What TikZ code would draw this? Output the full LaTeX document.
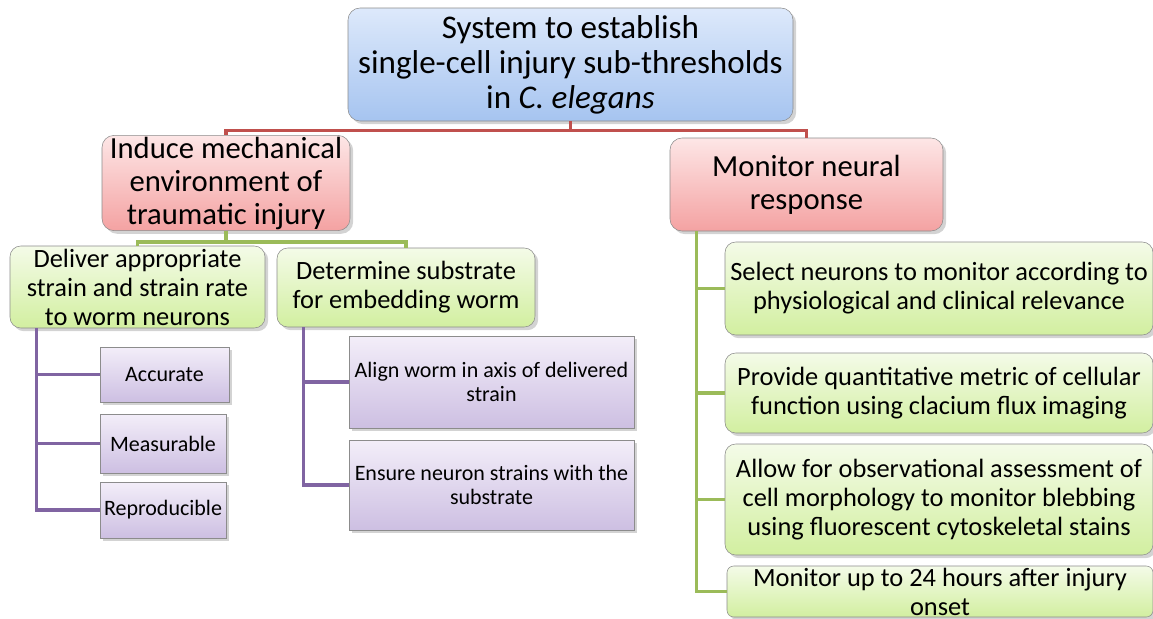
\documentclass[tikz,border=0pt]{standalone}
\usepackage{fontspec}
\setmainfont{Carlito}
\usepackage{tikz}
\usetikzlibrary{calc,shadows}
\definecolor{edge}{HTML}{8C8C8C}
\definecolor{bluetop}{HTML}{DDE9FB}
\definecolor{bluebot}{HTML}{A6C4F0}
\definecolor{redtop}{HTML}{FDE6E6}
\definecolor{redbot}{HTML}{F4A2A2}
\definecolor{greentop}{HTML}{F4FBE8}
\definecolor{greenbot}{HTML}{D2EFA0}
\definecolor{lilactop}{HTML}{F3EEF9}
\definecolor{lilacbot}{HTML}{CDBFE2}
\definecolor{redline}{HTML}{C0504D}
\definecolor{greenline}{HTML}{9BBB59}
\definecolor{purpleline}{HTML}{8064A2}

\begin{document}
\begin{tikzpicture}[x=0.75pt,y=-0.75pt,
  every node/.style={align=center,inner sep=1pt},
  goal/.style={draw=edge,rounded corners=9pt,top color=bluetop,bottom color=bluebot,
              drop shadow={opacity=0.35},font=\fontsize{24.8}{26.25}\selectfont},
  aim/.style={draw=edge,rounded corners=9pt,top color=redtop,bottom color=redbot,
              drop shadow={opacity=0.35},font=\fontsize{23}{24.75}\selectfont},
  task/.style={draw=edge,rounded corners=8pt,top color=greentop,bottom color=greenbot,
              drop shadow={opacity=0.35},font=\fontsize{19.8}{21.75}\selectfont},
  spec/.style={draw=edge,top color=lilactop,bottom color=lilacbot,
              drop shadow={opacity=0.35},font=\fontsize{16.5}{18}\selectfont},
  redlnk/.style={draw=redline,line width=2.5pt},
  greenlnk/.style={draw=greenline,line width=2.5pt},
  purplelnk/.style={draw=purpleline,line width=2.5pt}
]
\useasboundingbox (0,0) rectangle (1153,618);

% top level
\node[goal,minimum width=333.75pt,minimum height=84.75pt] (sys) at (570.5,64.5)
  {System to establish\\single-cell injury sub-thresholds\\in \textit{C. elegans}};

% second level
\node[aim,minimum width=186pt,minimum height=70.5pt] (induce) at (226,183)
  {Induce mechanical\\environment of\\traumatic injury};
\node[aim,minimum width=204.75pt,minimum height=69.75pt] (monitor) at (806.5,184.5)
  {Monitor neural\\response};

% left branch
\node[task,minimum width=191.25pt,minimum height=61.5pt] (deliver) at (137.5,287)
  {Deliver appropriate\\strain and strain rate\\to worm neurons};
\node[task,minimum width=193.5pt,minimum height=59.25pt] (substrate) at (406,287.5)
  {Determine substrate\\for embedding worm};

\node[spec,minimum width=96.75pt,minimum height=41.25pt] (accurate) at (164.5,374.5) {Accurate};
\node[spec,minimum width=94.5pt,minimum height=44.25pt] (measurable) at (163,443.5) {Measurable};
\node[spec,minimum width=94.5pt,minimum height=42pt] (reproducible) at (163,510) {Reproducible};

\node[spec,minimum width=213.75pt,minimum height=69pt] (align) at (491.5,382)
  {Align worm in axis of delivered\\strain};
\node[spec,minimum width=213.75pt,minimum height=67.5pt] (ensure) at (491.5,485)
  {Ensure neuron strains with the\\substrate};

% right branch
\node[task,minimum width=321pt,minimum height=69.75pt] (select) at (939,288.5)
  {Select neurons to monitor according to\\physiological and clinical relevance};
\node[task,minimum width=321pt,minimum height=60pt] (metric) at (939,393)
  {Provide quantitative metric of cellular\\function using clacium flux imaging};
\node[task,minimum width=321pt,minimum height=83.25pt] (morph) at (939,499.5)
  {Allow for observational assessment of\\cell morphology to monitor blebbing\\using fluorescent cytoskeletal stains};
\node[task,minimum width=319.5pt,minimum height=38.25pt,rounded corners=5pt] (hours) at (940,591.5)
  {Monitor up to 24 hours after injury\\onset};

% connectors
\draw[redlnk] (sys.south) -- ++(0,9) -| (induce.north);
\draw[redlnk] (sys.south) -- ++(0,9) -| (monitor.north);
\draw[greenlnk] (induce.south) -- ++(0,11) -| (deliver.north);
\draw[greenlnk] (induce.south) -- ++(0,11) -| (substrate.north);

\coordinate (dtrunk) at ($(deliver.south west)+(27,0)$);
\foreach \n in {accurate,measurable,reproducible}
  \draw[purplelnk] (dtrunk) |- (\n.west);
\coordinate (strunk) at ($(substrate.south west)+(27,0)$);
\foreach \n in {align,ensure}
  \draw[purplelnk] (strunk) |- (\n.west);
\coordinate (mtrunk) at ($(monitor.south west)+(27,0)$);
\foreach \n in {select,metric,morph,hours}
  \draw[greenlnk] (mtrunk) |- (\n.west);
\end{tikzpicture}
\end{document}
